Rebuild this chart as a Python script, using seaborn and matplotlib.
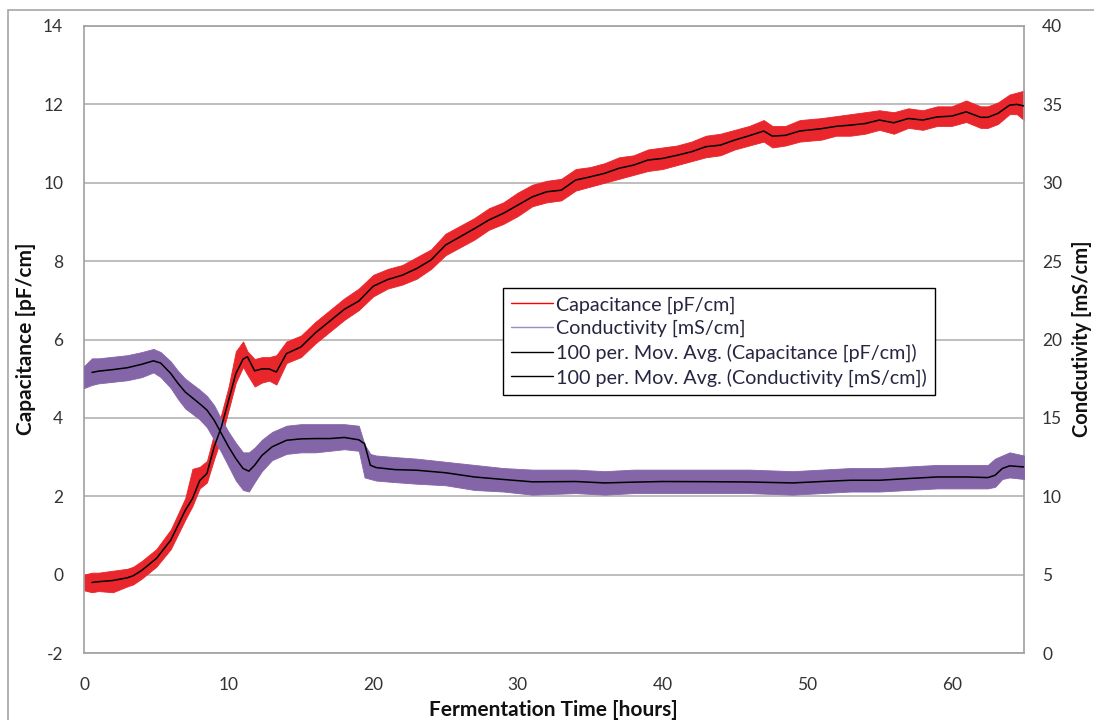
import numpy as np
import matplotlib
matplotlib.use("Agg")
import matplotlib.pyplot as plt
from matplotlib.lines import Line2D
from matplotlib.patches import Rectangle
from matplotlib.ticker import MultipleLocator
import seaborn as sns

# -----------------------------
# data
# -----------------------------
# capacitance (left axis, pF/cm): 100-period moving average and the raw noise envelope
cap_time = [0, 0.55, 1, 2, 3, 3.4, 4, 5, 6, 7,
            7.5, 8, 8.5, 9, 9.5, 10, 10.5, 11, 11.3, 11.8,
            12.3, 12.8, 13.3, 14, 15, 16, 17, 18, 19, 20,
            21, 22, 23, 24, 25, 26, 27, 28, 29, 30,
            31, 32, 33, 34, 35, 36, 37, 38, 39, 40,
            41, 42, 43, 44, 45, 46, 47, 47.6, 48.5, 49.5,
            51, 52, 53, 54, 55, 56, 57, 58, 59, 60,
            61, 62, 62.5, 63.2, 64, 64.5, 65]
cap_avg = [np.nan, -0.2, -0.18, -0.15, -0.08, -0.03, 0.11, 0.41, 0.88, 1.64,
           1.94, 2.4, 2.58, 3.26, 3.77, 4.45, 5.13, 5.5, 5.56, 5.2,
           5.25, 5.25, 5.17, 5.64, 5.81, 6.17, 6.47, 6.77, 6.98, 7.36,
           7.53, 7.64, 7.81, 8.03, 8.41, 8.62, 8.83, 9.05, 9.22, 9.43,
           9.64, 9.77, 9.81, 10.07, 10.15, 10.24, 10.37, 10.45, 10.58, 10.62,
           10.7, 10.79, 10.92, 10.96, 11.09, 11.2, 11.32, 11.19, 11.21, 11.32,
           11.38, 11.44, 11.47, 11.51, 11.6, 11.53, 11.64, 11.6, 11.68, 11.7,
           11.81, 11.67, 11.67, 11.77, 11.98, 12.0, 11.96]
cap_hi = [0.0, 0.05, 0.05, 0.1, 0.15, 0.2, 0.35, 0.65, 1.15, 1.95,
          2.7, 2.75, 2.9, 3.6, 4.1, 4.8, 5.7, 5.95, 5.7, 5.5,
          5.55, 5.55, 5.6, 5.95, 6.1, 6.45, 6.75, 7.05, 7.3, 7.65,
          7.8, 7.9, 8.1, 8.3, 8.7, 8.9, 9.1, 9.35, 9.5, 9.75,
          9.95, 10.05, 10.1, 10.35, 10.4, 10.5, 10.65, 10.7, 10.85, 10.9,
          10.95, 11.05, 11.2, 11.25, 11.35, 11.45, 11.6, 11.45, 11.45, 11.6,
          11.65, 11.7, 11.75, 11.8, 11.85, 11.8, 11.9, 11.85, 11.95, 11.95,
          12.1, 11.95, 11.95, 12.05, 12.25, 12.3, 12.35]
cap_lo = [-0.4, -0.45, -0.42, -0.45, -0.3, -0.25, -0.1, 0.2, 0.65, 1.4,
          1.75, 2.2, 2.35, 2.95, 3.5, 4.2, 4.9, 5.3, 5.1, 4.8,
          4.9, 4.95, 4.85, 5.4, 5.55, 5.9, 6.2, 6.5, 6.75, 7.1,
          7.3, 7.4, 7.55, 7.8, 8.15, 8.35, 8.55, 8.8, 8.95, 9.15,
          9.4, 9.5, 9.55, 9.8, 9.9, 10.0, 10.1, 10.2, 10.3, 10.35,
          10.45, 10.55, 10.65, 10.7, 10.85, 10.95, 11.05, 10.9, 10.95, 11.05,
          11.1, 11.2, 11.2, 11.25, 11.35, 11.25, 11.4, 11.35, 11.45, 11.45,
          11.55, 11.4, 11.4, 11.5, 11.75, 11.75, 11.6]

# conductivity (right axis, mS/cm)
cond_time = [0, 0.55, 1, 2, 3, 4, 4.8, 5.3, 6, 6.5,
             7, 8, 8.5, 9, 9.5, 10, 10.5, 11, 11.4, 11.8,
             12.3, 13, 14, 15, 16, 17, 18, 19, 19.4, 19.8,
             20.2, 21.5, 23, 25, 27, 29, 31, 34, 36, 38,
             40, 43, 46, 49, 51, 53, 55, 57, 59, 61,
             62.5, 63, 63.5, 64, 65]
cond_avg = [np.nan, 17.9, 17.98, 18.08, 18.2, 18.42, 18.64, 18.5, 17.83, 17.2,
            16.65, 15.9, 15.5, 14.85, 14.0, 13.15, 12.4, 11.77, 11.6, 11.98,
            12.6, 13.15, 13.57, 13.66, 13.68, 13.68, 13.75, 13.6, 13.35, 11.98,
            11.83, 11.7, 11.66, 11.5, 11.23, 11.07, 10.92, 10.94, 10.85, 10.9,
            10.94, 10.93, 10.91, 10.85, 10.94, 11.02, 11.02, 11.13, 11.23, 11.23,
            11.19, 11.34, 11.77, 11.94, 11.87]
cond_hi = [18.3, 18.8, 18.8, 18.9, 19.0, 19.2, 19.4, 19.2, 18.6, 18.0,
           17.5, 16.8, 16.4, 15.8, 14.9, 14.1, 13.4, 12.8, 12.8, 13.1,
           13.6, 14.1, 14.5, 14.6, 14.6, 14.6, 14.6, 14.5, 13.3, 12.7,
           12.6, 12.5, 12.4, 12.2, 12.0, 11.8, 11.7, 11.7, 11.6, 11.7,
           11.7, 11.7, 11.7, 11.6, 11.7, 11.8, 11.8, 11.9, 12.0, 12.0,
           12.0, 12.4, 12.6, 12.8, 12.6]
cond_lo = [16.9, 17.1, 17.2, 17.3, 17.4, 17.6, 17.9, 17.6, 16.9, 16.2,
           15.6, 14.9, 14.4, 13.6, 12.8, 11.9, 11.0, 10.4, 10.3, 10.9,
           11.6, 12.3, 12.7, 12.8, 12.8, 12.9, 13.0, 12.9, 11.2, 11.1,
           11.0, 10.9, 10.8, 10.7, 10.4, 10.3, 10.1, 10.2, 10.1, 10.2,
           10.2, 10.2, 10.2, 10.1, 10.2, 10.3, 10.3, 10.4, 10.5, 10.5,
           10.5, 10.6, 11.1, 11.2, 11.1]

legend_labels = ["Capacitance [pF/cm]",
                 "Conductivity [mS/cm]",
                 "100 per. Mov. Avg. (Capacitance [pF/cm])",
                 "100 per. Mov. Avg. (Conductivity [mS/cm])"]

RED = "#e8262c"
PURPLE = "#8466a8"
GRID = "#b3b3b3"
TXT = "#333333"

sns.set_theme(style="white")
plt.rcParams['font.family'] = ['Lato', 'DejaVu Sans']
plt.rcParams['axes.unicode_minus'] = False

W, H = 1094, 720
fig = plt.figure(figsize=(W / 100, H / 100), dpi=100)
ax = fig.add_axes([84 / W, 1 - 653 / H, 940 / W, 627 / H])
ax2 = ax.twinx()   # conductivity
ax3 = ax.twinx()   # capacitance average drawn on top of everything

# raw signals as their noise envelopes
ax.fill_between(cap_time, cap_lo, cap_hi, color=RED, lw=0.6, edgecolor=RED)
ax2.fill_between(cond_time, cond_lo, cond_hi, color=PURPLE, lw=0.6, edgecolor=PURPLE)

# moving averages
sns.lineplot(x=cond_time, y=cond_avg, ax=ax2, color="black", lw=1.1)
sns.lineplot(x=cap_time, y=cap_avg, ax=ax3, color="black", lw=1.1)

ax.set_xlim(0, 65)
ax.set_ylim(-2, 14)
ax2.set_ylim(0, 40)
ax3.set_ylim(-2, 14)

ax.set_yticks(range(-2, 15, 2))
ax2.set_yticks(range(0, 41, 5))
ax.set_xticks(range(0, 61, 10))
ax.xaxis.set_minor_locator(MultipleLocator(2))

ax.yaxis.grid(True, color=GRID, lw=1.2)
ax.xaxis.grid(False)
ax.set_axisbelow(True)

for s in ax.spines.values():
    s.set_visible(True)
    s.set_color("#a0a0a0")
    s.set_linewidth(1.2)
for a in (ax2, ax3):
    for s in a.spines.values():
        s.set_visible(False)
ax3.set_yticks([])
ax3.tick_params(axis="both", length=0, labelleft=False, labelright=False, labelbottom=False)

ax.tick_params(axis="x", which="major", direction="in", length=6, width=1, color="#a0a0a0",
               labelsize=12.5, labelcolor=TXT, pad=17)
ax.tick_params(axis="x", which="minor", direction="in", length=4, width=1, color="#a0a0a0")
ax.tick_params(axis="y", length=0, labelsize=12.5, labelcolor=TXT, pad=15)
ax2.tick_params(axis="y", length=0, labelsize=12.5, labelcolor=TXT, pad=13)

for a in (ax, ax2, ax3):
    a.set_xlabel("")
    a.set_ylabel("")

fig.text(553 / W, 1 - 710 / H, "Fermentation Time [hours]", ha="center", va="center",
         fontsize=15, fontweight="bold", color="#111111")
fig.text(26 / W, 1 - 339 / H, "Capacitance [pF/cm]", ha="center", va="center",
         rotation=90, fontsize=15, fontweight="bold", color="#111111")
fig.text(1082 / W, 1 - 339 / H, "Condcutivity [mS/cm]", ha="center", va="center",
         rotation=90, fontsize=14.5, fontweight="bold", color="#111111")

handles = [Line2D([], [], color="#ff0000", lw=1),
           Line2D([], [], color="#9a8cc8", lw=1),
           Line2D([], [], color="black", lw=1),
           Line2D([], [], color="black", lw=1)]
leg = fig.legend(handles, legend_labels, loc="upper left",
                 bbox_to_anchor=(503 / W, 1 - 288 / H), borderaxespad=0,
                 frameon=True, fancybox=False, framealpha=1, edgecolor="black",
                 fontsize=14.2, handlelength=2.1, handletextpad=0.15,
                 labelspacing=0.32, borderpad=0.42)
leg.get_frame().set_linewidth(1.0)
for t in leg.get_texts():
    t.set_color("#262640")

# outer chart-area border
fig.patches.append(Rectangle((8 / W, -0.1), 1.2, 1 - 10 / H + 0.1, transform=fig.transFigure,
                             fill=False, edgecolor="#a6a6a6", lw=1.2))

fig.savefig("out.png", dpi=100)
